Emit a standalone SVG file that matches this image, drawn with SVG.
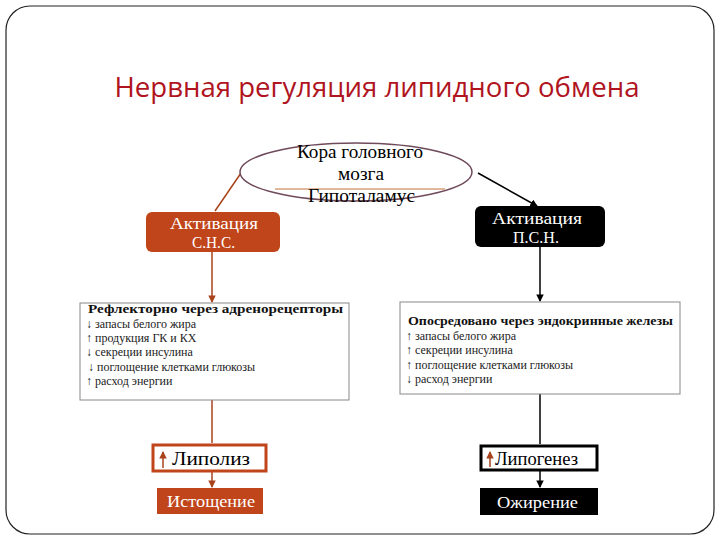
<svg xmlns="http://www.w3.org/2000/svg" width="720" height="540" viewBox="0 0 720 540">
<defs>
<marker id="ab" viewBox="0 0 8 8" refX="7" refY="4" markerWidth="5" markerHeight="5" orient="auto"><path d="M0,0 L8,4 L0,8 Z" fill="#000"/></marker>
<marker id="ao" viewBox="0 0 8 8" refX="7" refY="4" markerWidth="5" markerHeight="5" orient="auto"><path d="M0,0 L8,4 L0,8 Z" fill="#a8431c"/></marker>
<style>
.serif{font-family:"Liberation Serif","DejaVu Serif",serif}
.t{font-family:"Open Sans","Liberation Sans",sans-serif;font-size:28px;fill:#b0141e}
.small{font-size:12px;fill:#222}
.bold{font-size:13px;font-weight:bold;fill:#111}
.wt{fill:#fff}
.ob{stroke:#a8431c;stroke-width:1.5;fill:none}
.bl{stroke:#000;stroke-width:1.5;fill:none}
</style>
</defs>
<rect x="6" y="6" width="708" height="528" rx="24" fill="#fff" stroke="#222" stroke-width="1.2"/>
<text class="t" x="377" y="97" text-anchor="middle" textLength="525" lengthAdjust="spacingAndGlyphs">Нервная регуляция липидного обмена</text>

<g id="connectors">
<line class="ob" x1="241" y1="173" x2="215" y2="211"/>
<line class="bl" x1="478" y1="173" x2="537" y2="206" marker-end="url(#ab)"/>
<line class="ob" x1="212" y1="252" x2="212" y2="302" marker-end="url(#ao)"/>
<line class="bl" x1="540" y1="247" x2="540" y2="301" marker-end="url(#ab)"/>
<line class="ob" x1="212" y1="400" x2="212" y2="443"/>
<line class="bl" x1="540" y1="394" x2="540" y2="444"/>
<line class="ob" x1="212" y1="472" x2="212" y2="487" marker-end="url(#ao)"/>
<line class="bl" x1="540" y1="471" x2="540" y2="487" marker-end="url(#ab)"/>
</g>

<g id="cortex">
<ellipse cx="356" cy="172" rx="116" ry="29" fill="#fff" stroke="#6e4a5a" stroke-width="1.5"/>
<line x1="275" y1="189" x2="445" y2="189" stroke="#c0703a" stroke-width="1"/>
<text class="serif" font-size="18" x="297" y="158" textLength="126" lengthAdjust="spacingAndGlyphs">Кора головного</text>
<text class="serif" font-size="18" x="338" y="180" textLength="46" lengthAdjust="spacingAndGlyphs">мозга</text>
<text class="serif" font-size="18" x="308" y="202" textLength="107" lengthAdjust="spacingAndGlyphs">Гипоталамус</text>
</g>

<g id="sns">
<rect x="146" y="212" width="134" height="40" rx="6" fill="#c0451a"/>
<text class="serif wt" font-size="17" x="170" y="229" textLength="88" lengthAdjust="spacingAndGlyphs">Активация</text>
<text class="serif wt" font-size="17" x="192" y="248" textLength="43" lengthAdjust="spacingAndGlyphs">С.Н.С.</text>
</g>

<g id="psn">
<rect x="475" y="206" width="130" height="41" rx="6" fill="#000"/>
<text class="serif wt" font-size="17" x="492" y="224" textLength="90" lengthAdjust="spacingAndGlyphs">Активация</text>
<text class="serif wt" font-size="17" x="513" y="243" textLength="46" lengthAdjust="spacingAndGlyphs">П.С.Н.</text>
</g>

<g id="reflex">
<rect x="80" y="303" width="269" height="97" fill="#fff" stroke="#888" stroke-width="1"/>
<text class="serif bold" x="88" y="313" textLength="255" lengthAdjust="spacingAndGlyphs">Рефлекторно через адренорецепторы</text>
<text class="serif small" x="86" y="328">↓ запасы белого жира</text>
<text class="serif small" x="86" y="342">↑ продукция ГК и  КХ</text>
<text class="serif small" x="86" y="356">↓ секреции инсулина</text>
<text class="serif small" x="88" y="371">↓ поглощение клетками глюкозы</text>
<text class="serif small" x="86" y="385">↑ расход энергии</text>
</g>

<g id="endocrine">
<rect x="400" y="302" width="280" height="92" fill="#fff" stroke="#888" stroke-width="1"/>
<text class="serif bold" x="408" y="325" textLength="265" lengthAdjust="spacingAndGlyphs">Опосредовано через эндокринные железы</text>
<text class="serif small" x="406" y="340">↑ запасы белого жира</text>
<text class="serif small" x="406" y="354">↑ секреции инсулина</text>
<text class="serif small" x="406" y="369">↑ поглощение клетками глюкозы</text>
<text class="serif small" x="406" y="383">↓ расход энергии</text>
</g>

<g id="lipolysis">
<rect x="153" y="445" width="113" height="26" fill="#fff" stroke="#c0451a" stroke-width="3"/>
<line x1="163" y1="468" x2="163" y2="452" stroke="#a8431c" stroke-width="1.5" marker-end="url(#ao)"/>
<text class="serif" font-size="18" x="172" y="465" textLength="78" lengthAdjust="spacingAndGlyphs">Липолиз</text>
</g>

<g id="exhaustion">
<rect x="157" y="488" width="106" height="26" fill="#c0451a"/>
<text class="serif wt" font-size="17" x="167" y="507" textLength="88" lengthAdjust="spacingAndGlyphs">Истощение</text>
</g>

<g id="lipogenesis">
<rect x="481" y="446" width="116" height="24" fill="#fff" stroke="#000" stroke-width="3"/>
<line x1="490" y1="467" x2="490" y2="452" stroke="#a8431c" stroke-width="1.5" marker-end="url(#ao)"/>
<text class="serif" font-size="18" x="495" y="465" textLength="83" lengthAdjust="spacingAndGlyphs">Липогенез</text>
</g>

<g id="obesity">
<rect x="480" y="488" width="118" height="27" fill="#000"/>
<text class="serif wt" font-size="17" x="497" y="508" textLength="81" lengthAdjust="spacingAndGlyphs">Ожирение</text>
</g>
</svg>
